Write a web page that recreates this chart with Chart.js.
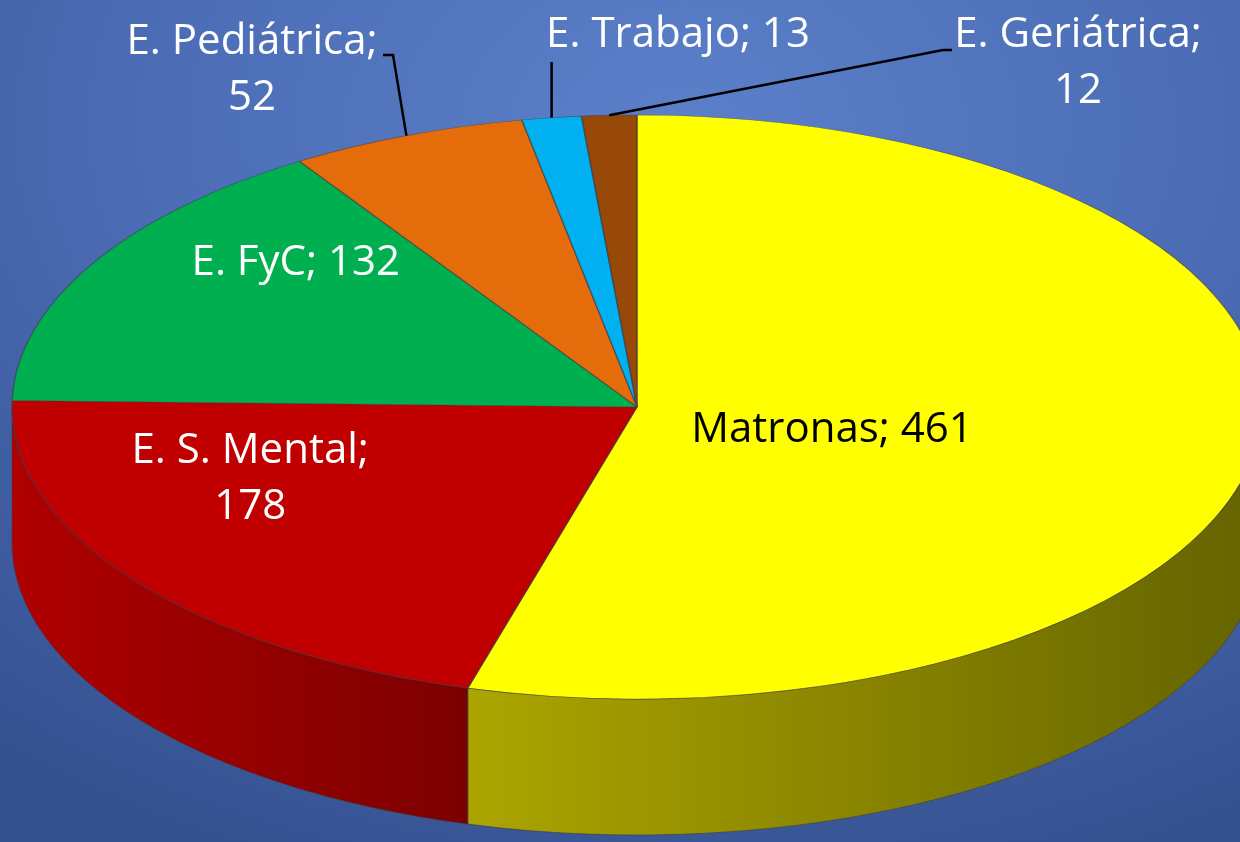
<!DOCTYPE html>
<html lang="es">
<head>
<meta charset="utf-8">
<title>Especialidades de enfermería</title>
<script src="https://cdn.jsdelivr.net/npm/chart.js@4.4.1/dist/chart.umd.min.js"></script>
<style>
  html, body { margin: 0; padding: 0; }
  body {
    width: 1240px;
    height: 842px;
    overflow: hidden;
    background: radial-gradient(ellipse 90% 95% at 55% 15%, #5b80c9 0%, #4b6cb4 50%, #34508f 100%);
  }
  #wrap { position: relative; width: 1240px; height: 842px; }
  canvas { display: block; }
</style>
</head>
<body>
<div id="wrap"><canvas id="chart" width="1240" height="842"></canvas></div>
<script>
// Data
const categories = ["Matronas", "E. S. Mental", "E. FyC", "E. Pediátrica", "E. Trabajo", "E. Geriátrica"];
const values = [461, 178, 132, 52, 13, 12];

// Styles
const topColors = ["#ffff00", "#c00000", "#00b050", "#e46c0a", "#00b0f0", "#984807"];
const sideColors = [
  ["#aca500", "#646300"],
  ["#b00000", "#7c0000"],
  ["#008a3e", "#006a30"],
  ["#b55508", "#8a4006"],
  ["#008cc0", "#006a90"],
  ["#783805", "#5a2a04"],
];
const TILT = 292 / 625; // vertical / horizontal radius of the top face
const DEPTH = 136;      // height of the pie wall in px
const FONT = "42px 'Open Sans', Lato, sans-serif";

// label placement: inside labels sit on the slice mid angle (f = fraction of radius),
// outside labels get a leader line from the slice edge to the text
const labelLayout = [
  { inside: true, f: 0.315, dy: 10, color: "#000", split: false },
  { inside: true, f: 0.77, dy: -62, color: "#fff", split: true },
  { inside: true, f: 0.626, dy: -55, color: "#fff", split: false },
  { inside: false, tx: 252, ty: 42, elbow: [[393, 55], [383, 55]], color: "#fff", split: true },
  { inside: false, tx: 678, ty: 35, elbow: [[null, 62]], color: "#fff", split: false },
  { inside: false, tx: 1078, ty: 35, elbow: [[943, 50], [952, 50]], color: "#fff", split: true },
];

function onFace(arc, angle, f) {
  const ry = arc.outerRadius * TILT;
  return {
    x: arc.x + f * arc.outerRadius * Math.cos(angle),
    y: arc.y + f * ry * Math.sin(angle),
  };
}

// Walls + vertical squash of the pie
const pie3d = {
  id: "pie3d",
  beforeDatasetsDraw(chart) {
    const ctx = chart.ctx;
    const arcs = chart.getDatasetMeta(0).data;
    arcs.forEach((arc, i) => {
      const R = arc.outerRadius;
      const ry = R * TILT;
      for (const k of [-1, 0, 1]) {
        const a = Math.max(arc.startAngle + k * 2 * Math.PI, 0);
        const b = Math.min(arc.endAngle + k * 2 * Math.PI, Math.PI);
        if (b <= a) continue;
        const xl = arc.x + R * Math.cos(b);
        const xr = arc.x + R * Math.cos(a);
        const grad = ctx.createLinearGradient(xl, 0, xr, 0);
        grad.addColorStop(0, sideColors[i][0]);
        grad.addColorStop(1, sideColors[i][1]);
        ctx.beginPath();
        ctx.ellipse(arc.x, arc.y, R, ry, 0, a, b);
        ctx.ellipse(arc.x, arc.y + DEPTH, R, ry, 0, b, a, true);
        ctx.closePath();
        ctx.fillStyle = grad;
        ctx.fill();
        ctx.lineWidth = 1;
        ctx.strokeStyle = "rgba(60,60,70,0.6)";
        ctx.stroke();
      }
    });
    const { x, y } = arcs[0];
    ctx.save();
    ctx.translate(x, y);
    ctx.scale(1, TILT);
    ctx.translate(-x, -y);
  },
  afterDatasetsDraw(chart) {
    const ctx = chart.ctx;
    ctx.restore();
    const arcs = chart.getDatasetMeta(0).data;
    ctx.font = FONT;
    ctx.textAlign = "center";
    ctx.textBaseline = "middle";
    arcs.forEach((arc, i) => {
      const lay = labelLayout[i];
      const text = `${categories[i]}; ${values[i]}`;
      const lines = lay.split ? [`${categories[i]};`, `${values[i]}`] : [text];
      const mid = (arc.startAngle + arc.endAngle) / 2;
      let tx, ty;
      if (lay.inside) {
        const p = onFace(arc, mid, lay.f);
        tx = p.x;
        ty = p.y + lay.dy - (lines.length - 1) * 28;
      } else {
        const p = onFace(arc, mid, 1);
        ctx.beginPath();
        ctx.moveTo(p.x, p.y);
        lay.elbow.forEach(([ex, ey]) => ctx.lineTo(ex === null ? p.x : ex, ey));
        ctx.lineWidth = 2.5;
        ctx.strokeStyle = "#000";
        ctx.stroke();
        tx = lay.tx;
        ty = lay.ty;
      }
      ctx.fillStyle = lay.color;
      lines.forEach((ln, j) => ctx.fillText(ln, tx, ty + j * 56));
    });
  },
};

const ctx = document.getElementById("chart").getContext("2d");
new Chart(ctx, {
  type: "pie",
  data: {
    labels: categories,
    datasets: [
      {
        data: values,
        backgroundColor: topColors,
        borderColor: "rgba(60,60,70,0.6)",
        borderWidth: 1.5,
        radius: 625,
      },
    ],
  },
  options: {
    responsive: false,
    animation: false,
    layout: { padding: { left: 34, right: 0, top: 0, bottom: 28 } },
    plugins: { legend: { display: false }, tooltip: { enabled: false } },
  },
  plugins: [pie3d],
});
</script>
</body>
</html>
